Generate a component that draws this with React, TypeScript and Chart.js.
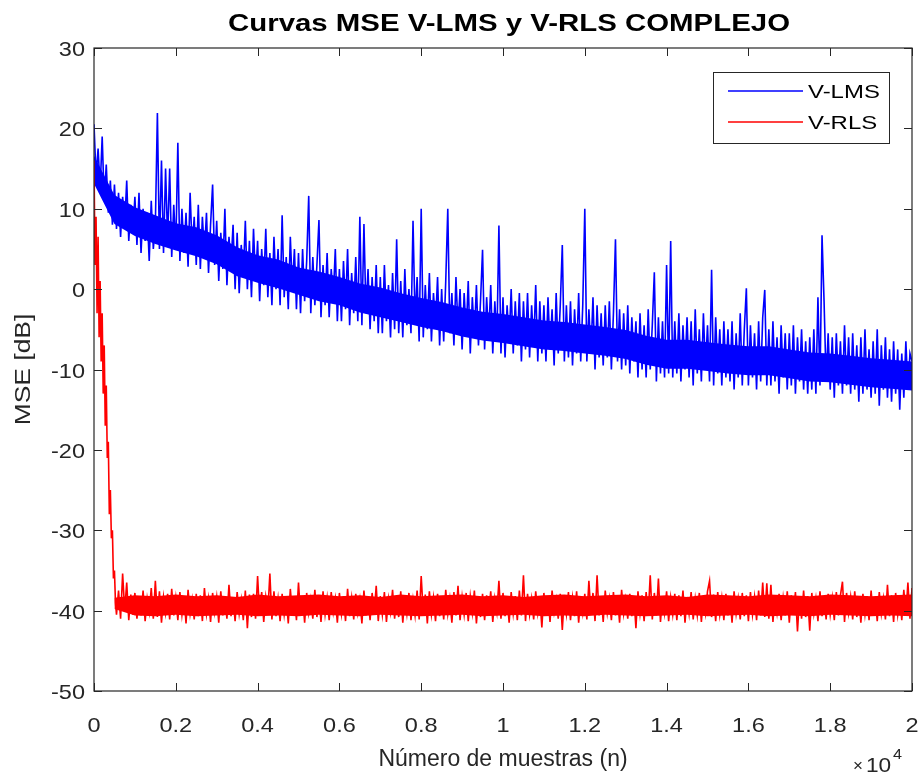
import React, { useEffect, useRef } from "react";
import { Chart, registerables } from "chart.js";

Chart.register(...registerables);

// ---------- text ----------
const TITLE = "Curvas MSE V-LMS y V-RLS COMPLEJO";
const X_LABEL = "Número de muestras (n)";
const Y_LABEL = "MSE [dB]";
const SERIES_NAMES = ["V-LMS", "V-RLS"];
const X_EXP_BASE = "10";
const X_EXP_POWER = "4";

// ---------- axes ----------
const X_MIN = 0;
const X_MAX = 20000;
const Y_MIN = -50;
const Y_MAX = 30;
const X_TICKS = [0, 2000, 4000, 6000, 8000, 10000, 12000, 14000, 16000, 18000, 20000];
const X_TICK_LABELS = ["0", "0.2", "0.4", "0.6", "0.8", "1", "1.2", "1.4", "1.6", "1.8", "2"];
const Y_TICKS = [-50, -40, -30, -20, -10, 0, 10, 20, 30];

// ---------- data (MSE in dB) ----------
// V-LMS: one value every 50 samples, n = 0 .. 20000
const LMS_STEP = 50;
const lmsDb = [
  20.5, 14, 17.5, 12.5, 19, 11, 15.5, 9.5, 13.5, 8,
  13, 7.5, 12, 6.5, 11.5, 8, 13.5, 6, 10.5, 7,
  11.5, 5.5, 12, 4.5, 10, 6, 9.5, 3.5, 11, 5,
  8, 21.9, 5, 16, 4.5, 15, 6, 15, 4, 10.5,
  5, 18.2, 3.5, 10, 4.5, 9.5, 2.8, 12, 5, 9,
  3, 10.5, 2.5, 9, 4.5, 9.5, 2, 8, 13, 3,
  8.5, 1, 7, 2.5, 10, 0.5, 6.5, 3, 8, 0,
  7, -0.5, 5.5, 1.5, 8.5, 0, 6, -1, 7.5, 1,
  6, -1.5, 5, 0.5, 7.5, -1, 4.5, -2, 6.5, 0,
  5, -2, 9.2, -1, 4, -2.5, 6.5, 0, 5, -2.5,
  4.5, -3, 5, -1.5, 3.5, 11.6, -3, 4, -2, 3,
  8.6, -3.5, 3, -2, 4.5, -3.5, 2.5, -1, 5, -4,
  2.5, -4, 3.5, -2.5, 5, -4.5, 2, -3, 4, -4,
  9, -4.5, 8.1, -3, 2.5, -5, 1.5, -4, 3, -5.5,
  1.5, -5.5, 3, -4, 0.5, -6, 2, -5, 6.2, -5.5,
  1, -6, 2.5, -4.5, 0, -5.5, 8.5, -4, 1.5, -6.5,
  10, -6, 0.5, -5, 2, -6.5, -0.5, -4.5, 1.5, -7,
  0, -6.5, 1, 10, -5.5, -0.5, -7, 1.5, -5, 0,
  -7.5, -0.5, -5.5, 1, -8, -1, -6, 0.5, -7, -1.5,
  4.9, -7.5, -1, -6, 0.5, -8, -1.5, -6.5, 7.9, -8,
  -1, -8.5, -2, -6.5, 0, -8, -1.5, -7, -0.5, -9,
  -1.5, -7.5, -0.5, -8.5, -2, -7, 0.5, -9, -1.5, -8,
  -2, -9, -1, -7.5, -2.5, -9.5, -0.5, -8, -2, 5.5,
  -9, -2, -8.5, -1.5, -9.5, -2.5, -8, -0.5, -9, -2,
  10, -9, -2.5, -8, -1, -10, -2, -8.5, -3, -9.5,
  -2, -8.5, -1.5, -10, -3, 6.2, -9, -2.5, -10, -3,
  -9.5, -2, -10.5, -3.5, -9, -4, -11, -3, -10, -4.5,
  -11, -2.5, -10, -4.5, 2.1, -11.5, -3.5, -10.5, -4, -11,
  3, -10.5, 6, -11, -4, -10.5, -3, -11.5, -4.5, -10,
  -3.5, -11, -4, -12, -2.5, -10.5, -5, -11.5, -3, -10,
  -4.5, -11.5, 2.4, -12, -3.5, -10.5, -5, -12, -4, -11,
  -5, -11.5, -4, -12.5, -5.5, -11, -3, -12, -5, 0.1,
  -12, -4.5, -11, -5.5, -12.5, -4, -11.5, -3.5, -0.1, -12,
  -5, -12, -4, -11.5, -6, -13, -4.5, -11, -5.5, -12.5,
  -5.5, -12, -4.5, -13, -6, -11.5, -5, -12.5, -6.5, -13,
  -6, -12.5, -5, -13, -1, -12, 6.7, -1.5, -11.5, -5.5,
  -12.5, -6, -13.5, -5.5, -12, -6.5, -13, -4.5, -12, -6,
  -13, -5.5, -12.5, -7, -14, -6, -13, -5, -12.5, -7.5,
  -13.5, -6.5, -13, -5, -14.5, -7, -12.5, -6, -13.5, -7.5,
  -14, -6.5, -13, -7.5, -15, -8, -13.5, -6.5, -12.5, -8,
  -9,
];

// V-LMS dense core of the trace (where the samples overlap into a solid band),
// one value every 500 samples, n = 0 .. 20000
const LMS_CORE_STEP = 500;
const lmsCoreHighDb = [
  16.6, 11.7, 10.2, 9.2, 8.2, 7.7, 6.7, 5.2, 4.2, 3.7,
  2.7, 2.2, 1.5, 0.7, 0.2, -0.5, -1.1, -1.6, -2.3, -2.8,
  -3.1, -3.5, -3.9, -4.1, -4.4, -4.7, -5.1, -5.8, -6.3, -6.3,
  -6.6, -6.9, -7.1, -7.1, -7.5, -7.9, -8, -8.3, -8.6, -8.8,
  -9,
];
const lmsCoreLowDb = [
  13.1, 8.1, 6.6, 5.6, 4.8, 4.1, 3.1, 1.6, 0.8, 0.1,
  -0.7, -1.5, -2, -2.9, -3.5, -4.1, -4.7, -5.2, -5.9, -6.4,
  -6.7, -7.1, -7.5, -7.7, -8, -8.3, -8.7, -9.4, -9.9, -9.9,
  -10.2, -10.5, -10.7, -10.7, -11.1, -11.5, -11.6, -11.9, -12.2, -12.4,
  -12.6,
];

// V-RLS convergence: one value every 25 samples, n = 0 .. 525
const RLS_HEAD_STEP = 25;
const rlsHeadDb = [
  16, 3, 9, -3, 6.5, -6, 1, -9, -3, -13, -7,
  -17, -12, -21, -19, -28, -25, -31, -30, -36, -35, -39,
];

// V-RLS steady state: one value every 50 samples, n = 550 .. 20000
const RLS_TAIL_START = 550;
const RLS_TAIL_STEP = 50;
const rlsTailDb = [
  -40.5, -37.5, -41, -35.4, -40, -36.5, -41.2, -38, -40.5, -37.8,
  -41, -38.2, -40.6, -37.5, -41.3, -38.5, -40.2, -37.2, -41, -36.3,
  -40.8, -37.6, -41.5, -38.3, -40.3, -37.9, -41.1, -37.3, -40.6, -38.4,
  -41.2, -37.7, -40.5, -38.2, -41.6, -37.4, -40.4, -38.6, -41.1, -37.9,
  -40.7, -38.1, -41.3, -37.2, -40.4, -38.5, -41.4, -37.8, -40.2, -38.3,
  -41.5, -37.6, -40.6, -38.2, -41, -36.8, -40.7, -38.4, -41.3, -37.7,
  -40.4, -38.6, -41.2, -37.5, -42.2, -38, -40.8, -37.9, -41, -35.7,
  -40.6, -37.7, -41.4, -38.3, -40.2, -35.4, -41.1, -37.6, -40.7, -38.5,
  -41.3, -37.9, -40.5, -38.4, -41.6, -37.3, -40.4, -38.2, -41.2, -36.5,
  -40.6, -38.3, -41.5, -37.8, -40.3, -38.6, -41, -37.4, -40.8, -38.1,
  -41.4, -37.6, -40.5, -38.4, -41.2, -37.7, -40.2, -38.5, -41.5, -37.8,
  -40.4, -38.2, -41.3, -37.3, -40.7, -38.4, -41.1, -37.9, -40.3, -38.6,
  -41.6, -37.5, -40.6, -38.3, -41.2, -37.8, -40.4, -36.9, -41.3, -38.2,
  -40.5, -37.7, -41.4, -38.5, -40.2, -37.4, -41, -38.1, -40.8, -37.6,
  -41.5, -38.3, -40.4, -37.8, -41.2, -38.6, -40.6, -37.5, -41.1, -35.7,
  -40.3, -38, -41.6, -37.6, -40.5, -38.4, -41.3, -37.9, -40.7, -38.2,
  -41.1, -37.4, -40.4, -38.5, -41.5, -37.7, -40.6, -36.9, -41.2, -38.3,
  -40.5, -37.8, -41.3, -38.2, -40.3, -37.5, -41.6, -38.4, -40.8, -37.9,
  -41.2, -38.1, -40.5, -37.6, -41.4, -38.5, -40.2, -36.3, -41, -37.8,
  -40.7, -38.4, -41.5, -37.7, -40.4, -38.2, -41.2, -37.5, -40.6, -35.6,
  -41.3, -37.9, -40.5, -38.5, -41.1, -37.6, -40.3, -38.3, -42.1, -37.8,
  -40.6, -38.2, -41.4, -37.5, -40.2, -38.6, -41, -37.9, -42.4, -38.1,
  -40.4, -37.7, -41.2, -38.4, -40.7, -37.6, -41.5, -38.2, -40.3, -37.9,
  -41.1, -36.3, -40.5, -37.8, -41.3, -35.6, -40.6, -38.3, -41.4, -37.5,
  -40.3, -38.5, -41.2, -37.7, -40.6, -38.2, -41.5, -37.4, -40.4, -38.6,
  -41, -37.9, -40.7, -38.3, -42.2, -37.6, -40.4, -38.1, -41.3, -37.7,
  -40.5, -35.6, -41.1, -37.8, -40.6, -36, -41.4, -38.2, -40.3, -37.6,
  -41.3, -38.4, -40.5, -37.9, -41.2, -38.1, -40.7, -37.5, -41.5, -38.3,
  -40.4, -37.7, -41.1, -38.5, -40.6, -37.8, -41.4, -38.2, -40.3, -37.6,
  -36.3, -40.8, -38, -41.3, -37.7, -40.5, -38.4, -41.2, -37.9, -40.6,
  -38.2, -41.5, -37.6, -40.4, -38.5, -41.1, -37.8, -40.7, -38.1, -41.3,
  -37.7, -40.5, -38.3, -41.2, -37.5, -40.6, -36.5, -40.8, -36.6, -41,
  -36.8, -41.4, -38.2, -40.3, -37.9, -41.2, -38.4, -40.6, -37.6, -41.5,
  -38.1, -40.5, -37.7, -42.6, -38.3, -41, -37.5, -40.8, -38.2, -42.5,
  -37.8, -40.4, -38.5, -41.3, -37.6, -40.7, -38.2, -41.1, -37.9, -40.5,
  -38.4, -41.2, -37.7, -40.6, -38.1, -36.4, -41.4, -37.8, -40.3, -38.3,
  -41.1, -37.6, -40.8, -38.4, -41.5, -37.9, -40.5, -38.2, -41.2, -37.5,
  -40.6, -38.3, -41.3, -37.7, -40.4, -38.5, -41.1, -36.8, -40.7, -38.1,
  -41.4, -37.8, -40.5, -38.2, -41.2, -37.4, -40.6, -36.5, -41, -37.2,
];

// V-RLS dense core, one value every 500 samples, n = 500 .. 20000
const RLS_CORE_START = 500;
const RLS_CORE_STEP = 500;
const rlsCoreHighDb = [
  -38.4, -38.1, -38.2, -38, -38.2, -38.1, -38.3, -38, -38.2, -38.1,
  -38, -38.2, -38.1, -38.3, -38, -38.2, -38.1, -38, -38.2, -38.1,
  -38.3, -38.1, -38, -38.2, -38.1, -38, -38.2, -38.1, -38.3, -38,
  -38.1, -38.2, -38, -38.1, -38.2, -38, -38.1, -38.2, -38.1, -38,
];
const rlsCoreLowDb = [
  -39.8, -40.6, -40.7, -40.5, -40.7, -40.6, -40.5, -40.7, -40.6, -40.7,
  -40.5, -40.6, -40.7, -40.5, -40.6, -40.7, -40.6, -40.5, -40.7, -40.6,
  -40.5, -40.7, -40.6, -40.7, -40.5, -40.6, -40.7, -40.6, -40.5, -40.7,
  -40.6, -40.5, -40.7, -40.6, -40.7, -40.5, -40.6, -40.7, -40.6, -40.7,
];

// ---------- style ----------
const LMS_COLOR = "#0000ff";
const RLS_COLOR = "#ff0000";
const AXIS_COLOR = "#262626";
const FONT = '"Liberation Sans", Arial, Helvetica, sans-serif';

const W = 922;
const H = 776;

function drawText(
  ctx: CanvasRenderingContext2D,
  text: string,
  x: number,
  y: number,
  font: string,
  align: CanvasTextAlign,
  sx: number,
  rotate = 0
) {
  ctx.save();
  ctx.font = font;
  ctx.textAlign = align;
  ctx.textBaseline = "alphabetic";
  ctx.translate(x, y);
  if (rotate) ctx.rotate(rotate);
  ctx.scale(sx, 1);
  ctx.fillText(text, 0, 0);
  ctx.restore();
}

const matlabDecor = {
  id: "matlabDecor",
  afterDraw(chart: any) {
    const { ctx, chartArea: a, scales } = chart;
    const xs = scales.x;
    const ys = scales.y;
    ctx.save();

    // axes box
    ctx.strokeStyle = AXIS_COLOR;
    ctx.lineWidth = 1.2;
    ctx.strokeRect(a.left, a.top, a.right - a.left, a.bottom - a.top);

    // inward ticks on all four sides
    const TL = 8;
    ctx.lineWidth = 1;
    ctx.beginPath();
    X_TICKS.forEach((v) => {
      const px = Math.round(xs.getPixelForValue(v)) + 0.5;
      ctx.moveTo(px, a.bottom);
      ctx.lineTo(px, a.bottom - TL);
      ctx.moveTo(px, a.top);
      ctx.lineTo(px, a.top + TL);
    });
    Y_TICKS.forEach((v) => {
      const py = Math.round(ys.getPixelForValue(v)) + 0.5;
      ctx.moveTo(a.left, py);
      ctx.lineTo(a.left + TL, py);
      ctx.moveTo(a.right, py);
      ctx.lineTo(a.right - TL, py);
    });
    ctx.stroke();

    // tick labels
    ctx.fillStyle = AXIS_COLOR;
    const tickFont = `21px ${FONT}`;
    X_TICKS.forEach((v, i) => {
      drawText(ctx, X_TICK_LABELS[i], xs.getPixelForValue(v), a.bottom + 41, tickFont, "center", 1.12);
    });
    Y_TICKS.forEach((v) => {
      drawText(ctx, String(v), a.left - 9, ys.getPixelForValue(v) + 8, tickFont, "right", 1.12);
    });

    const cx = (a.left + a.right) / 2;
    const cy = (a.top + a.bottom) / 2;

    // title (stretched to the reference width)
    ctx.fillStyle = "#000";
    const titleFont = `bold 24px ${FONT}`;
    ctx.font = titleFont;
    const tw = ctx.measureText(TITLE).width;
    drawText(ctx, TITLE, cx + 6, 31, titleFont, "center", 562 / tw);

    // axis labels
    ctx.fillStyle = AXIS_COLOR;
    drawText(ctx, X_LABEL, cx, 766, `23px ${FONT}`, "center", 1.0);
    drawText(ctx, Y_LABEL, 30, cy, `22px ${FONT}`, "center", 1.2, -Math.PI / 2);

    // x10^4
    drawText(ctx, "\u00d7", 853, 771, `17px ${FONT}`, "left", 1);
    drawText(ctx, X_EXP_BASE, 866, 772, `21px ${FONT}`, "left", 1.08);
    drawText(ctx, X_EXP_POWER, 893, 759, `15px ${FONT}`, "left", 1.08);

    // legend
    const lx = 713, ly = 72, lw = 176, lh = 71;
    ctx.fillStyle = "#fff";
    ctx.fillRect(lx, ly, lw, lh);
    ctx.strokeStyle = AXIS_COLOR;
    ctx.lineWidth = 1;
    ctx.strokeRect(lx + 0.5, ly + 0.5, lw, lh);
    const rows = [
      { name: SERIES_NAMES[0], color: LMS_COLOR, y: ly + 19 },
      { name: SERIES_NAMES[1], color: RLS_COLOR, y: ly + 50 },
    ];
    rows.forEach((r) => {
      ctx.strokeStyle = r.color;
      ctx.lineWidth = 1.5;
      ctx.beginPath();
      ctx.moveTo(lx + 15, r.y);
      ctx.lineTo(lx + 90, r.y);
      ctx.stroke();
      ctx.fillStyle = "#000";
      drawText(ctx, r.name, lx + 95, r.y + 7, `19px ${FONT}`, "left", 1.26);
    });

    ctx.restore();
  },
};

export default function App() {
  const canvasRef = useRef<HTMLCanvasElement | null>(null);

  useEffect(() => {
    document.body.style.margin = "0";
    const canvas = canvasRef.current;
    if (!canvas) return;

    const lmsData = lmsDb.map((y, i) => ({ x: i * LMS_STEP, y }));
    const lmsHigh = lmsCoreHighDb.map((y, i) => ({ x: i * LMS_CORE_STEP, y }));
    const lmsLow = lmsCoreLowDb.map((y, i) => ({ x: i * LMS_CORE_STEP, y }));
    const rlsData = rlsHeadDb
      .map((y, i) => ({ x: i * RLS_HEAD_STEP, y }))
      .concat(rlsTailDb.map((y, i) => ({ x: RLS_TAIL_START + i * RLS_TAIL_STEP, y })));
    const rlsHigh = rlsCoreHighDb.map((y, i) => ({ x: RLS_CORE_START + i * RLS_CORE_STEP, y }));
    const rlsLow = rlsCoreLowDb.map((y, i) => ({ x: RLS_CORE_START + i * RLS_CORE_STEP, y }));

    const lineDs = (label: string, data: any[], color: string, order: number) => ({
      label,
      data,
      borderColor: color,
      borderWidth: 1.6,
      pointRadius: 0,
      tension: 0,
      fill: false,
      order,
    });
    const coreDs = (label: string, data: any[], color: string, order: number, fill: any) => ({
      label,
      data,
      borderColor: color,
      backgroundColor: color,
      borderWidth: 0,
      pointRadius: 0,
      tension: 0,
      fill,
      order,
    });

    const chart = new Chart(canvas, {
      type: "line",
      data: {
        datasets: [
          lineDs(SERIES_NAMES[0], lmsData, LMS_COLOR, 10),
          coreDs(SERIES_NAMES[0] + " core", lmsHigh, LMS_COLOR, 11, "+1"),
          coreDs(SERIES_NAMES[0] + " core low", lmsLow, LMS_COLOR, 11, false),
          lineDs(SERIES_NAMES[1], rlsData, RLS_COLOR, 0),
          coreDs(SERIES_NAMES[1] + " core", rlsHigh, RLS_COLOR, 1, "+1"),
          coreDs(SERIES_NAMES[1] + " core low", rlsLow, RLS_COLOR, 1, false),
        ] as any,
      },
      options: {
        animation: false,
        responsive: false,
        maintainAspectRatio: false,
        devicePixelRatio: 1,
        events: [],
        layout: { padding: { top: 48, right: 10, left: 0, bottom: 0 } },
        plugins: {
          legend: { display: false },
          title: { display: false },
          tooltip: { enabled: false },
        },
        scales: {
          x: {
            type: "linear",
            min: X_MIN,
            max: X_MAX,
            afterBuildTicks: (s: any) => {
              s.ticks = X_TICKS.map((v) => ({ value: v }));
            },
            afterFit: (s: any) => {
              s.height = 85;
              s.paddingLeft = 0;
              s.paddingRight = 0;
            },
            ticks: { display: false },
            grid: { display: false, drawTicks: false },
            border: { display: false },
          },
          y: {
            type: "linear",
            min: Y_MIN,
            max: Y_MAX,
            afterBuildTicks: (s: any) => {
              s.ticks = Y_TICKS.map((v) => ({ value: v }));
            },
            afterFit: (s: any) => {
              s.width = 94;
              s.paddingTop = 0;
              s.paddingBottom = 0;
            },
            ticks: { display: false },
            grid: { display: false, drawTicks: false },
            border: { display: false },
          },
        },
      },
      plugins: [matlabDecor],
    } as any);

    return () => chart.destroy();
  }, []);

  return (
    <div style={{ position: "absolute", left: 0, top: 0, width: W, height: H, background: "#fff" }}>
      <canvas ref={canvasRef} width={W} height={H} style={{ width: W, height: H, display: "block" }} />
    </div>
  );
}
